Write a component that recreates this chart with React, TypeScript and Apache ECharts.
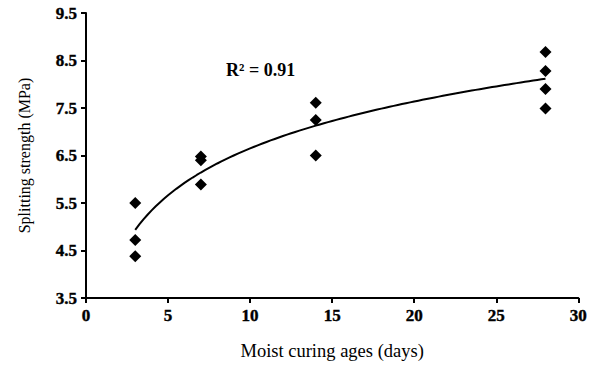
import React, { useEffect, useRef } from "react";
import * as echarts from "echarts";

const ages = [3, 3, 3, 7, 7, 7, 14, 14, 14, 28, 28, 28, 28];
const strength = [5.5, 4.72, 4.38, 6.48, 6.4, 5.89, 7.61, 7.25, 6.5, 8.68, 8.28, 7.9, 7.49];
const xTicks = [0, 5, 10, 15, 20, 25, 30];
const yTicks = [3.5, 4.5, 5.5, 6.5, 7.5, 8.5, 9.5];
const r2Label = "R\u00b2 = 0.91";
const xTitle = "Moist curing ages (days)";
const yTitle = "Splitting strength (MPa)";

// logarithmic regression y = a + b ln(x) fitted to the data above
function logFit(xs: number[], ys: number[]) {
  const L = xs.map((x) => Math.log(x));
  const n = xs.length;
  const mL = L.reduce((s, v) => s + v, 0) / n;
  const mY = ys.reduce((s, v) => s + v, 0) / n;
  let sxx = 0;
  let sxy = 0;
  for (let i = 0; i < n; i++) {
    sxx += (L[i] - mL) * (L[i] - mL);
    sxy += (L[i] - mL) * (ys[i] - mY);
  }
  const b = sxy / sxx;
  return { a: mY - b * mL, b };
}

export default function App() {
  const ref = useRef<HTMLDivElement>(null);
  useEffect(() => {
    if (!ref.current) return;
    const chart = echarts.init(ref.current, undefined, { renderer: "svg" });
    const { a, b } = logFit(ages, strength);
    const xMin = Math.min(...ages);
    const xMax = Math.max(...ages);
    const trend: number[][] = [];
    const steps = 100;
    for (let i = 0; i <= steps; i++) {
      const x = xMin + ((xMax - xMin) * i) / steps;
      trend.push([x, a + b * Math.log(x)]);
    }
    const font = "'Liberation Serif', 'Times New Roman', serif";
    const axisLine = { show: true, lineStyle: { color: "#000", width: 2 } };
    const tickLabel = {
      color: "#000",
      fontFamily: font,
      fontWeight: "bold",
      fontSize: 17,
      margin: 9,
      textBorderColor: "#000",
      textBorderWidth: 0.4,
    };
    chart.setOption({
      animation: false,
      backgroundColor: "#fff",
      grid: { left: 86, right: 9, top: 13, bottom: 68 },
      xAxis: {
        type: "value",
        min: 0,
        max: 30,
        interval: 5,
        axisLine,
        axisTick: { show: true, length: 5, lineStyle: { color: "#000", width: 2 } },
        splitLine: { show: false },
        axisLabel: { ...tickLabel, customValues: xTicks },
        name: xTitle,
        nameLocation: "middle",
        nameGap: 43,
        nameTextStyle: { color: "#000", fontFamily: font, fontSize: 18.5 },
      },
      yAxis: {
        type: "value",
        min: 3.5,
        max: 9.5,
        axisLine,
        axisTick: { show: true, length: 5, lineStyle: { color: "#000", width: 2 }, customValues: yTicks },
        splitLine: { show: false },
        axisLabel: {
          ...tickLabel,
          customValues: yTicks,
          formatter: (v: number) => v.toFixed(1),
        },
        name: yTitle,
        nameLocation: "middle",
        nameGap: 54,
        nameTextStyle: { color: "#000", fontFamily: font, fontSize: 16 },
      },
      graphic: [
        {
          type: "text",
          left: 226,
          top: 61,
          style: {
            text: r2Label,
            fill: "#000",
            font: `bold 18px ${font}`,
          },
        },
      ],
      series: [
        {
          type: "scatter",
          data: ages.map((x, i) => [x, strength[i]]),
          symbol: "diamond",
          symbolSize: 12,
          itemStyle: { color: "#000", opacity: 1 },
          z: 3,
        },
        {
          type: "line",
          data: trend,
          showSymbol: false,
          smooth: false,
          lineStyle: { color: "#000", width: 2 },
          z: 2,
        },
      ],
    });
    return () => chart.dispose();
  }, []);
  return (
    <div
      ref={ref}
      style={{ position: "fixed", left: 0, top: 0, width: 590, height: 366 }}
    />
  );
}
